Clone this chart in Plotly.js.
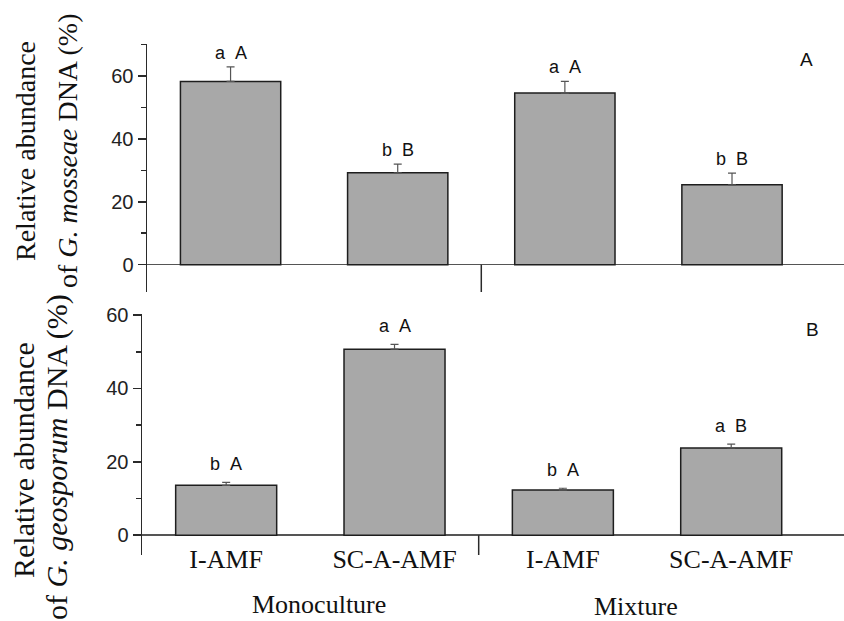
<!DOCTYPE html>
<html>
<head>
<meta charset="utf-8">
<script src="https://cdn.plot.ly/plotly-3.0.1.min.js"></script>
<style>html,body{margin:0;padding:0;background:#fff;}#chart{width:844px;height:621px;}</style>
</head>
<body>
<div id="chart"></div>
<script>
// ---- data ----
const categories = ['I-AMF', 'SC-A-AMF', 'I-AMF', 'SC-A-AMF'];
const positions = [0, 1, 2, 3];
const groups = ['Monoculture', 'Mixture'];
const mosseaeMean = [58.3, 29.2, 54.6, 25.4];
const mosseaeErr = [4.6, 2.8, 3.7, 3.7];
const geosporumMean = [13.6, 50.7, 12.3, 23.8];
const geosporumErr = [0.8, 1.3, 0.5, 1.0];
const mosseaeLower = ['a', 'b', 'a', 'b'];
const mosseaeUpper = ['A', 'B', 'A', 'B'];
const geosporumLower = ['b', 'a', 'b', 'a'];
const geosporumUpper = ['A', 'A', 'A', 'B'];
const panelLabels = ['A', 'B'];

// ---- layout helpers ----
const W = 844, H = 621;
const px = v => v / W;
const py = v => 1 - v / H;
const SERIF = '"Liberation Serif", "Times New Roman", serif';
const SANS = '"Liberation Sans", Arial, sans-serif';
const BAR = '#a8a8a8';
const INK = '#2a2a2a';

function barTrace(y, err, xa, ya) {
  return {
    type: 'bar', x: positions, y: y, xaxis: xa, yaxis: ya, width: 0.6,
    marker: {color: BAR, line: {color: '#1e1e1e', width: 1.5}},
    error_y: {type: 'data', symmetric: false, array: err, arrayminus: err.map(() => 0),
              color: '#555', thickness: 1.2, width: 4},
    hoverinfo: 'skip', showlegend: false
  };
}

const data = [
  barTrace(mosseaeMean, mosseaeErr, 'x', 'y'),
  barTrace(geosporumMean, geosporumErr, 'x2', 'y2')
];

function yAxis(domain, range, anchor) {
  return {
    domain: domain, range: range, anchor: anchor, tick0: 0, dtick: 20,
    ticks: 'outside', ticklen: 8, tickwidth: 1.5, tickcolor: INK,
    minor: {dtick: 10, ticks: 'outside', ticklen: 5, tickwidth: 1.5, tickcolor: INK},
    showline: true, linecolor: INK, linewidth: 1.5, showgrid: false,
    zeroline: true, zerolinecolor: '#555', zerolinewidth: 1.5,
    tickfont: {family: SANS, size: 20, color: '#222'}, fixedrange: true
  };
}

function paperText(x, y, text, family, size, angle) {
  return {xref: 'paper', yref: 'paper', x: px(x), y: py(y), text: text, textangle: angle || 0,
    xanchor: 'center', yanchor: 'middle', showarrow: false,
    font: {family: family, size: size, color: '#111'}};
}

const annotations = [];
const sep = '\u00a0\u00a0';
positions.forEach((p, i) => {
  annotations.push({xref: 'x', yref: 'y', x: p, y: mosseaeMean[i] + mosseaeErr[i],
    text: mosseaeLower[i] + sep + mosseaeUpper[i], showarrow: false, xanchor: 'center', yanchor: 'bottom', yshift: 2,
    font: {family: SANS, size: 18, color: '#111'}});
  annotations.push({xref: 'x2', yref: 'y2', x: p, y: geosporumMean[i] + geosporumErr[i],
    text: geosporumLower[i] + sep + geosporumUpper[i], showarrow: false, xanchor: 'center', yanchor: 'bottom', yshift: 6,
    font: {family: SANS, size: 18, color: '#111'}});
});
annotations.push(paperText(806, 60, panelLabels[0], SANS, 19));
annotations.push(paperText(812, 329, panelLabels[1], SANS, 19));
annotations.push(paperText(319, 604, groups[0], SERIF, 26));
annotations.push(paperText(636, 606, groups[1], SERIF, 26));
annotations.push(paperText(26, 151, 'Relative abundance', SERIF, 28, -90));
annotations.push(paperText(68, 151, 'of <i>G. mosseae</i> DNA (%)', SERIF, 28, -90));
annotations.push(paperText(23, 460, 'Relative abundance', SERIF, 30, -90));
annotations.push(paperText(57, 457, 'of <i>G. geosporum</i> DNA (%)', SERIF, 30, -90));

const layout = {
  width: W, height: H, margin: {l: 0, r: 0, t: 0, b: 0},
  paper_bgcolor: '#fff', plot_bgcolor: 'rgba(0,0,0,0)', showlegend: false,
  xaxis: {domain: [px(147), 1], range: [-0.5, 3.67], anchor: 'y', showticklabels: false, ticks: '',
          showline: false, zeroline: false, showgrid: false, fixedrange: true},
  xaxis2: {domain: [px(142), 1], range: [-0.5, 3.67], anchor: 'y2', tickvals: positions, ticktext: categories,
           ticks: '', showline: false, zeroline: false, showgrid: false, fixedrange: true,
           ticklabelstandoff: -14,
           tickfont: {family: SERIF, size: 26, color: '#111'}},
  yaxis: yAxis([py(292), py(44)], [-8.7, 70.2], 'x'),
  yaxis2: yAxis([py(555), py(314)], [-5.4, 60.3], 'x2'),
  shapes: [
    {type: 'line', xref: 'x', yref: 'y', x0: 1.5, x1: 1.5, y0: 0, y1: -8.7, line: {color: INK, width: 1.5}},
    {type: 'line', xref: 'x2', yref: 'y2', x0: 1.5, x1: 1.5, y0: 0, y1: -5.4, line: {color: INK, width: 1.5}}
  ],
  annotations: annotations
};

Plotly.newPlot('chart', data, layout, {displayModeBar: false, staticPlot: true});
</script>
</body>
</html>
